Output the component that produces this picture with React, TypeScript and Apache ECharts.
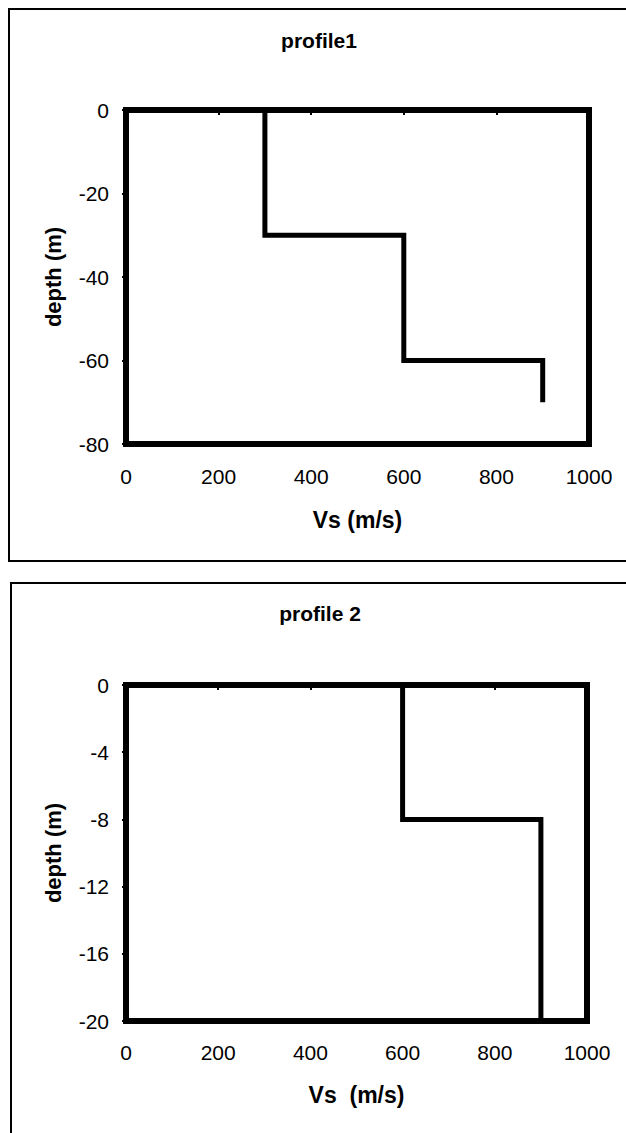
import React, { useEffect, useRef } from "react";
import * as echarts from "echarts";

// ---- data ----
const vsMin = 0;
const vsMax = 1000;
const vsInterval = 200;

const profile1Title = "profile1";
const profile1Vs = [300, 600, 900];
const profile1LayerTop = [0, -30, -60];
const profile1LayerBottom = [-30, -60, -70];
const profile1DepthMin = -80;
const profile1DepthMax = 0;
const profile1DepthInterval = 20;

const profile2Title = "profile 2";
const profile2Vs = [600, 900];
const profile2LayerTop = [0, -8];
const profile2LayerBottom = [-8, -20];
const profile2DepthMin = -20;
const profile2DepthMax = 0;
const profile2DepthInterval = 4;

const xName1 = "Vs (m/s)";
const xName2 = "Vs  (m/s)";
const yName = "depth (m)";

function steps(vs: number[], tops: number[], bottoms: number[]) {
  const pts: number[][] = [];
  vs.forEach((v, i) => {
    pts.push([v, tops[i]]);
    pts.push([v, bottoms[i]]);
  });
  return pts;
}

const FONT = "'Liberation Sans', Arial, Helvetica, sans-serif";
const plain = (v: number) => String(v);

export default function App() {
  const ref = useRef<HTMLDivElement>(null);

  useEffect(() => {
    if (!ref.current) return;
    const chart = echarts.init(ref.current, undefined, { renderer: "svg" });

    const bottomX = (gridIndex: number, name: string, nameGap: number, margin: number) => ({
      type: "value",
      gridIndex,
      position: "bottom",
      min: vsMin,
      max: vsMax,
      interval: vsInterval,
      name,
      nameLocation: "middle",
      nameGap,
      nameTextStyle: { fontFamily: FONT, fontSize: 23, fontWeight: "bold", color: "#000" },
      axisLine: { show: false },
      axisTick: { show: false },
      splitLine: { show: false },
      axisLabel: { fontFamily: FONT, fontSize: 21, color: "#000", margin, formatter: plain },
    });
    const topX = (gridIndex: number) => ({
      type: "value",
      gridIndex,
      position: "top",
      min: vsMin,
      max: vsMax,
      interval: vsInterval,
      axisLine: { show: false },
      axisTick: { show: true, inside: true, length: 5, lineStyle: { color: "#000", width: 2 } },
      splitLine: { show: false },
      axisLabel: { show: false },
    });
    const leftY = (gridIndex: number, min: number, max: number, interval: number) => ({
      type: "value",
      gridIndex,
      min,
      max,
      interval,
      name: yName,
      nameLocation: "middle",
      nameGap: 62,
      nameTextStyle: { fontFamily: FONT, fontSize: 22, fontWeight: "bold", color: "#000" },
      axisLine: { show: false },
      axisTick: { show: true, length: 4, lineStyle: { color: "#000", width: 2 } },
      splitLine: { show: false },
      axisLabel: { fontFamily: FONT, fontSize: 21, color: "#000", margin: 17, formatter: plain },
    });

    const option: any = {
      animation: false,
      backgroundColor: "#fff",
      title: [
        {
          text: profile1Title,
          left: 319,
          top: 30,
          padding: 0,
          textAlign: "center",
          textStyle: { fontFamily: FONT, fontSize: 21, fontWeight: "bold", color: "#000" },
        },
        {
          text: profile2Title,
          left: 320,
          top: 603,
          padding: 0,
          textAlign: "center",
          textStyle: { fontFamily: FONT, fontSize: 21, fontWeight: "bold", color: "#000" },
        },
      ],
      graphic: [
        {
          type: "rect",
          shape: { x: 9, y: 9, width: 640, height: 552 },
          style: { fill: "none", stroke: "#000", lineWidth: 2 },
          z: -10,
        },
        {
          type: "rect",
          shape: { x: 11, y: 583, width: 640, height: 620 },
          style: { fill: "none", stroke: "#000", lineWidth: 2 },
          z: -10,
        },
      ],
      grid: [
        { left: 126, top: 110, width: 463, height: 334, show: true, borderColor: "#000", borderWidth: 6, backgroundColor: "transparent" },
        { left: 126, top: 685, width: 461, height: 336, show: true, borderColor: "#000", borderWidth: 6, backgroundColor: "transparent" },
      ],
      xAxis: [bottomX(0, xName1, 64, 22), topX(0), bottomX(1, xName2, 62, 21), topX(1)],
      yAxis: [
        leftY(0, profile1DepthMin, profile1DepthMax, profile1DepthInterval),
        leftY(1, profile2DepthMin, profile2DepthMax, profile2DepthInterval),
      ],
      series: [
        {
          type: "line",
          xAxisIndex: 0,
          yAxisIndex: 0,
          data: steps(profile1Vs, profile1LayerTop, profile1LayerBottom),
          symbol: "none",
          lineStyle: { color: "#000", width: 5, join: "miter", cap: "butt" },
          z: 3,
        },
        {
          type: "line",
          xAxisIndex: 2,
          yAxisIndex: 1,
          data: steps(profile2Vs, profile2LayerTop, profile2LayerBottom),
          symbol: "none",
          lineStyle: { color: "#000", width: 5, join: "miter", cap: "butt" },
          z: 3,
        },
      ],
    };

    chart.setOption(option);
    return () => chart.dispose();
  }, []);

  return (
    <div
      ref={ref}
      style={{ position: "absolute", left: 0, top: 0, width: 626, height: 1133, background: "#fff" }}
    />
  );
}
